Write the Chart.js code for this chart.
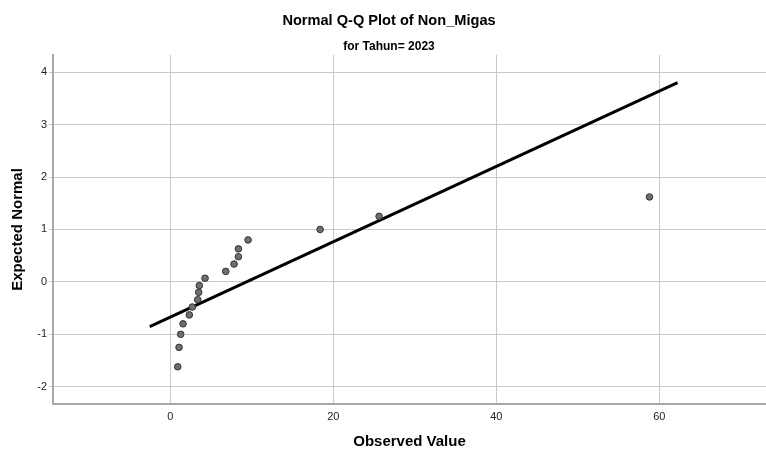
<!DOCTYPE html>
<html><head><meta charset="utf-8">
<script src="https://cdn.jsdelivr.net/npm/chart.js@4"></script>
<style>html,body{margin:0;padding:0;background:#fff}canvas{display:block}</style>
</head><body>
<canvas id="c" width="766" height="453"></canvas>
<script>
// Data
const observedValues = [0.91, 1.07, 1.27, 1.56, 2.33, 2.70, 3.36, 3.48, 3.56, 4.26, 6.80, 7.82, 8.35, 8.35, 9.54, 18.38, 25.62, 58.80];
const expectedNormal = [-1.62, -1.25, -1.00, -0.80, -0.63, -0.48, -0.34, -0.20, -0.07, 0.07, 0.20, 0.34, 0.48, 0.63, 0.80, 1.00, 1.25, 1.62];
const refLineX = [-2.53, 62.25];
const refLineY = [-0.853, 3.80];
const xTickValues = [0, 20, 40, 60];
const yTickValues = [-2, -1, 0, 1, 2, 3, 4];
const titleText = 'Normal Q-Q Plot of Non_Migas';
const subtitleText = 'for Tahun= 2023';
const xTitle = 'Observed Value';
const yTitle = 'Expected Normal';

const FONT = "'Liberation Sans', Arial, sans-serif";
const points = observedValues.map((v, i) => ({x: v, y: expectedNormal[i]}));
const linePts = refLineX.map((v, i) => ({x: v, y: refLineY[i]}));

new Chart(document.getElementById('c'), {
  type: 'scatter',
  data: {
    datasets: [
      {
        type: 'line',
        data: linePts,
        borderColor: '#000000',
        borderWidth: 3,
        pointRadius: 0,
        fill: false,
        order: 2
      },
      {
        data: points,
        backgroundColor: '#6e6e6e',
        borderColor: '#333333',
        borderWidth: 1,
        pointRadius: 3.3,
        order: 1
      }
    ]
  },
  options: {
    responsive: false,
    animation: false,
    devicePixelRatio: 1,
    layout: {autoPadding: false, padding: {left: 12, right: 0, top: 0, bottom: 0}},
    plugins: {
      legend: {display: false},
      tooltip: {enabled: false},
      title: {
        display: true,
        text: titleText,
        color: '#000',
        font: {family: FONT, size: 14.6, weight: 'bold', lineHeight: 1.2},
        padding: {top: 12, bottom: 10}
      },
      subtitle: {
        display: true,
        text: subtitleText,
        color: '#000',
        font: {family: FONT, size: 12, weight: 'bold', lineHeight: 1.2},
        padding: {top: 0, bottom: 1}
      }
    },
    scales: {
      x: {
        type: 'linear',
        min: -14.4,
        max: 73.1,
        afterBuildTicks: s => { s.ticks = xTickValues.map(v => ({value: v})); },
        afterFit: s => { s.height = 49; },
        grid: {color: '#c8c8c8', lineWidth: 1, drawTicks: false},
        border: {display: true, color: '#a8a8a8', width: 2},
        ticks: {color: '#222', font: {family: FONT, size: 11}, padding: 6, maxRotation: 0},
        title: {display: true, text: xTitle, color: '#000', font: {family: FONT, size: 15, weight: 'bold', lineHeight: 1.2}, padding: {top: 0, bottom: 2}}
      },
      y: {
        type: 'linear',
        min: -2.33,
        max: 4.33,
        afterBuildTicks: s => { s.ticks = yTickValues.map(v => ({value: v})); },
        afterFit: s => { s.width = 41; },
        grid: {color: '#c8c8c8', lineWidth: 1, drawTicks: true, tickLength: 4},
        border: {display: true, color: '#a8a8a8', width: 2},
        ticks: {color: '#222', font: {family: FONT, size: 11}, padding: 2},
        title: {display: true, text: yTitle, color: '#000', font: {family: FONT, size: 15, weight: 'bold', lineHeight: 1.2}, padding: {top: -3, bottom: 0}}
      }
    }
  }
});
</script>
</body></html>
